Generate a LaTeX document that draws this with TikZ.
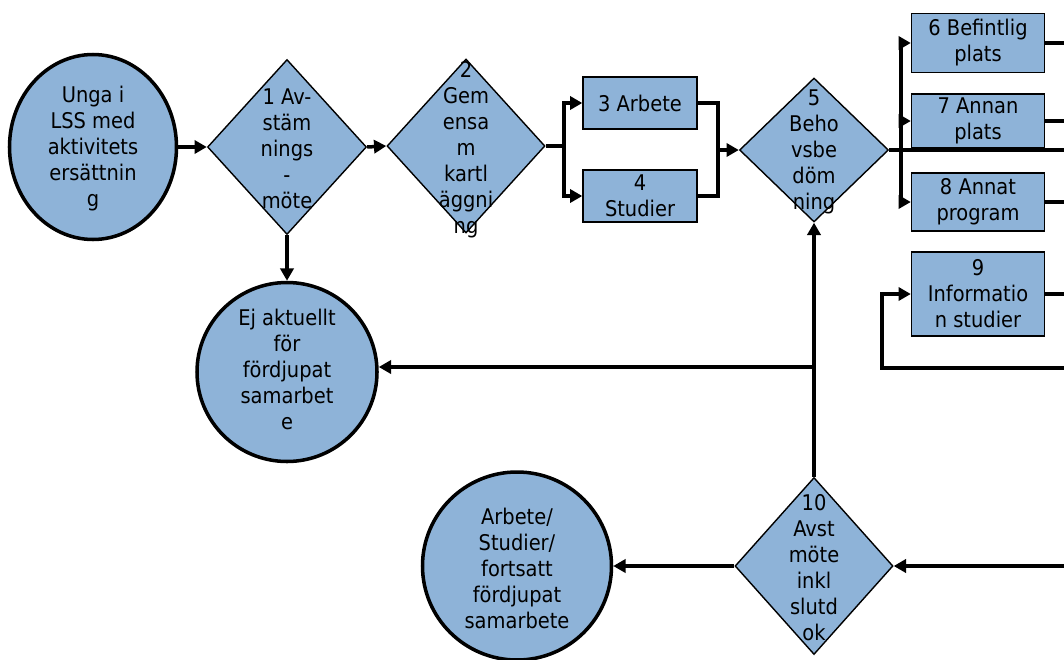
\documentclass[tikz,border=0pt]{standalone}
\usepackage{fontspec}
\setmainfont{DejaVu Sans}[FakeStretch=0.9]
\usetikzlibrary{shapes.geometric,arrows.meta,positioning}
\def\px{0.02cm}
\newcommand\flowfont{\fontsize{12.3}{14.8}\selectfont}
\definecolor{stepblue}{RGB}{142,179,216}
\tikzset{
  stage/.style={ellipse,draw=black,line width=2pt,fill=stepblue,inner sep=0pt},
  choice/.style={diamond,draw=black,line width=0.8pt,fill=stepblue,inner sep=0pt},
  task/.style={rectangle,draw=black,line width=0.8pt,fill=stepblue,inner sep=0pt,
               align=center,font=\flowfont},
  words/.style={align=center,font=\flowfont,inner sep=0pt},
  flow/.style={line width=2pt,-{Triangle[length=7pt,width=7.5pt]}},
  link/.style={line width=2pt}
}

\begin{document}
\begin{tikzpicture}[x=\px,y=-\px]
    % Page frame
    \useasboundingbox (0,0) rectangle (1064,659);
    \coordinate (edge) at (1064,0);

    % Start, checks and end states
    \node[stage,minimum width=167*\px,minimum height=185*\px] (start) at (93,147) {};
    \node[choice,minimum width=159*\px,minimum height=175*\px] (d1) at (287,147) {};
    \node[choice,minimum width=158*\px,minimum height=174*\px] (d2) at (466,146) {};
    \node[choice,minimum width=149*\px,minimum height=144*\px] (d5) at (814,150) {};
    \node[choice,minimum width=158*\px,minimum height=177*\px] (d10) at (814,566) {};
    \node[stage,minimum width=180*\px,minimum height=179*\px] (ej) at (287,372) {};
    \node[stage,minimum width=189*\px,minimum height=188*\px] (slut) at (517,566) {};

    % Boxes
    \node[task,minimum width=114*\px,minimum height=52*\px] (b3) at (640,103) {3 Arbete};
    \node[task,minimum width=114*\px,minimum height=52*\px] (b4) at (640,196) {4\\Studier};
    \node[task,minimum width=133*\px,minimum height=59*\px] (b6) at (978,43) {6 Befintlig\\plats};
    \node[task,minimum width=133*\px,minimum height=54*\px] (b7) at (978,121) {7 Annan\\plats};
    \node[task,minimum width=133*\px,minimum height=58*\px] (b8) at (978,202) {8 Annat\\program};
    \node[task,minimum width=133*\px,minimum height=84*\px] (b9) at (978,294) {9\\Informatio\\n studier};

    % Texts of the round and diamond shapes
    \node[words] (startt) at (93,149) {Unga i\\LSS med\\aktivitets\\ersättnin\\g};
    \node[words] (d1t) at (287,149) {1 Av-\\stäm\\nings\\-\\möte};
    \node[words] (d2t) at (466,150) {2\\Gem\\ensa\\m\\kartl\\äggni\\ng};
    \node[words] (d5t) at (814,152) {5\\Beho\\vsbe\\döm\\ning};
    \node[words] (d10t) at (814,568) {10\\Avst\\möte\\inkl\\slutd\\ok};
    \node[words] (ejt) at (287,369) {Ej aktuellt\\för\\fördjupat\\samarbet\\e};
    \node[words] (slutt) at (517,568) {Arbete/\\Studier/\\fortsatt\\fördjupat\\samarbete};

    % Junctions
    \coordinate (s2) at (564,146);
    \coordinate (m3) at (718,150);
    \coordinate (s5) at (901,150);
    \coordinate (l9) at (882,368);
    \coordinate (j10) at (814,367);

    % Connectors, top row
    \draw[flow] (start.east) -- (d1.west);
    \draw[flow] (d1.east) -- (d2.west);
    \draw[flow] (d1.south) -- (ej.north);
    \draw[link] (d2.east) -- (s2);
    \draw[flow] (s2) |- (b3.west);
    \draw[flow] (s2) |- (b4.west);
    \draw[link] (b3.east) -| (m3);
    \draw[link] (b4.east) -| (m3);
    \draw[flow] (m3) -- (d5.west);
    \draw[link] (d5.east) -- (d5.east -| edge);
    \draw[flow] (s5) |- (b6.west);
    \draw[flow] (s5) |- (b7.west);
    \draw[flow] (s5) |- (b8.west);
    \draw[link] (b6.east) -- (b6.east -| edge);
    \draw[link] (b7.east) -- (b7.east -| edge);
    \draw[link] (b8.east) -- (b8.east -| edge);
    \draw[link] (b9.east) -- (b9.east -| edge);
    \draw[flow] (l9 -| edge) -- (l9) |- (b9.west);

    % Connectors, bottom row
    \draw[flow] (d10.north) -- (d5.south);
    \draw[flow] (j10) -- (ej.east |- j10);
    \draw[flow] (d10.east -| edge) -- (d10.east);
    \draw[flow] (d10.west) -- (slut.east);
\end{tikzpicture}
\end{document}
